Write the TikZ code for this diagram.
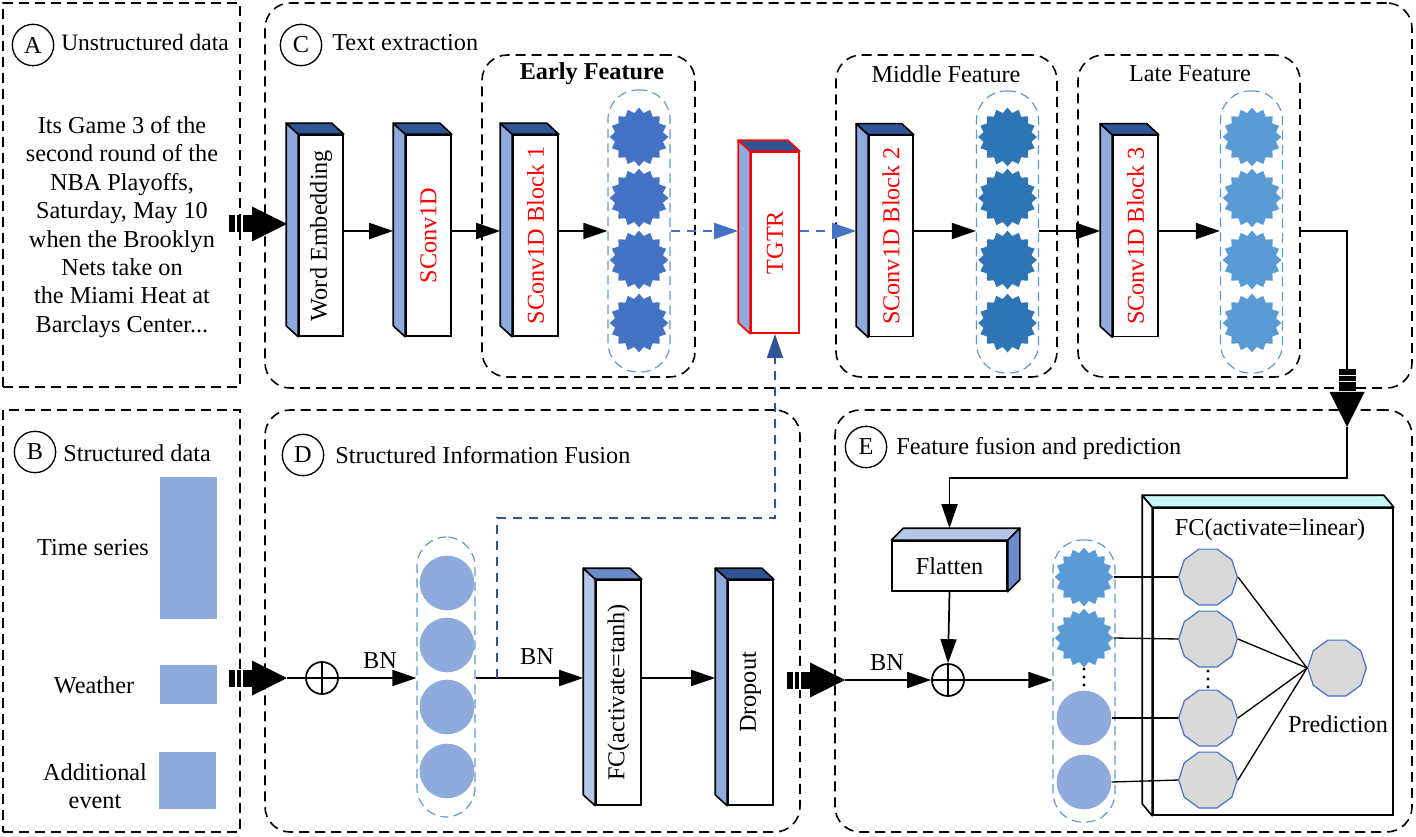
\documentclass[tikz,border=0pt]{standalone}
\usepackage{fontspec}
\setmainfont{Liberation Serif}
\usetikzlibrary{arrows.meta,shapes.geometric,calc}
\definecolor{sidec}{HTML}{8FAADC}
\definecolor{topc}{HTML}{2F5597}
\definecolor{lside}{HTML}{B4C7E7}
\definecolor{mtop}{HTML}{6A8CCB}
\definecolor{st1}{HTML}{4472C4}
\definecolor{st2}{HTML}{2E75B6}
\definecolor{st3}{HTML}{5B9BD5}
\definecolor{capc}{HTML}{5B9BD5}
\definecolor{dkblue}{HTML}{2F5597}
\definecolor{octf}{HTML}{D9D9D9}
\definecolor{cyanc}{HTML}{C9F6F8}
\definecolor{redc}{HTML}{FF0000}
\tikzset{
 every node/.style={font=\fontsize{18.2}{21.3}\selectfont},
 frame/.style={draw, dash pattern=on 7.5pt off 4.5pt, line width=1.2pt, inner sep=0},
 rframe/.style={frame, rounded corners=19pt},
 caps/.style={draw=capc, dash pattern=on 7pt off 4pt, line width=0.9pt, rounded corners=22pt, inner sep=0},
 starn/.style={star, star points=16, star point ratio=1.2, fill=#1, minimum size=44pt, inner sep=0},
 dotn/.style={circle, fill=sidec, minimum size=41pt, inner sep=0},
 octn/.style={regular polygon, regular polygon sides=10, draw=st1, fill=octf, line width=0.9pt, minimum size=44pt, inner sep=0},
 lbl/.style={circle, draw, line width=1pt, minimum size=31pt, inner sep=0},
 arr/.style={-{Triangle[length=18pt,width=12pt]}, line width=1.3pt},
 barr/.style={arr, draw=st1, dash pattern=on 7pt off 5pt},
 darr/.style={arr, draw=dkblue, dash pattern=on 7pt off 5pt, line width=1pt},
 conn/.style={line width=1.3pt},
 thinc/.style={line width=1pt},
 hdr/.style={anchor=base west, inner sep=0},
 oplus/.style={circle, draw, line width=1.3pt, minimum size=24pt, inner sep=0,
   path picture={\draw[line width=1.3pt] (path picture bounding box.north) -- (path picture bounding box.south) (path picture bounding box.west) -- (path picture bounding box.east);}},
 pics/fatarrow/.style={code={
   \fill (0,0) -- (-35,-17.5) -- (-35,17.5) -- cycle;
   \fill (-35.5,-8.5) rectangle (-58,8.5);
   \fill[white] (-52,-10) rectangle (-50.5,10);
   \fill[white] (-46,-10) rectangle (-44.5,10);
 }},
 pics/vdotsp/.style={code={
   \fill (0,-8) circle (1.6);
   \fill (0,0) circle (1.6);
   \fill (0,8) circle (1.6);
 }}
}
\newcommand{\fr}[6]{\node[#6, minimum width={(#4-#2)*0.75pt}, minimum height={(#5-#3)*0.75pt}] (#1) at ({(#2+#4)/2},{(#3+#5)/2}) {};}
\newcommand{\tdbox}[9]{%
  \node[draw=#8, fill=white, line width=1.2pt, minimum width=#4*0.75pt, minimum height=#5*0.75pt, inner sep=0] (#1) at (#2,#3) {};
  \filldraw[draw=#8, fill=#6, line width=1.2pt, line join=round] (#1.north west) -- ++(-12,-11) -- ([shift={(-12,-11)}]#1.south west) -- (#1.south west) -- cycle;
  \filldraw[draw=#8, fill=#7, line width=1.2pt, line join=round] (#1.north west) -- ++(-12,-11) -- ([shift={(-12,-11)}]#1.north east) -- (#1.north east) -- cycle;
  \coordinate (#1-bl) at ([shift={(-12,0)}]#1.west);
  \node[rotate=90] (#1-t) at (#1) {#9};
}
\begin{document}
\begin{tikzpicture}[x=0.75pt,y=-0.75pt]
\useasboundingbox (0,0) rectangle (1416,837);
\coordinate (rowC) at (0,231);
\coordinate (rowD) at (0,678);
\coordinate (rowE) at (0,680);
% frames
\fr{fA}{3}{3}{240}{387}{frame}
\fr{fC}{265}{3}{1412}{388}{rframe}
\fr{fB}{3}{410}{240}{832}{frame}
\fr{fD}{265}{410}{800}{832}{rframe}
\fr{fE}{835}{410}{1412}{832}{rframe}
\fr{fEarly}{482}{55}{695}{377}{rframe}
\fr{fMid}{836}{55}{1057}{377}{rframe}
\fr{fLate}{1078}{55}{1300}{377}{rframe}
% headers
\node[lbl] (cA) at (33,45) {A};
\node[hdr, font=\fontsize{17.6}{21.3}\selectfont] (tA) at (61,51) {Unstructured data};
\node[lbl] (cC) at (301,45) {C};
\node[hdr] (tC) at (332,51) {Text extraction};
\node[lbl] (cB) at (35,452) {B};
\node[hdr] (tB) at (63,461) {Structured data};
\node[lbl] (cD) at (303,455) {D};
\node[hdr] (tD) at (335,463) {Structured Information Fusion};
\node[lbl] (cE) at (866,447) {E};
\node[hdr] (tE) at (896,455) {Feature fusion and prediction};
\node (hEarly) at (592,74) {\textbf{Early Feature}};
\node (hMid) at (946,74) {Middle Feature};
\node (hLate) at (1190,74) {Late Feature};
% A text
\node[align=center, inner sep=0] (txtA) at (122,227) {Its Game 3 of the\\second round of the\\NBA Playoffs,\\Saturday, May 10\\when the Brooklyn\\Nets take on\\the Miami Heat at\\Barclays Center...};
% B content
\node (tTS) at (93,548) {Time series};
\node (tW) at (94,685) {Weather};
\node[align=center] (tAE) at (95,786) {Additional\\event};
\node[fill=sidec, minimum width=57*0.75pt, minimum height=142*0.75pt, inner sep=0] (rTS) at (188.5,548) {};
\node[fill=sidec, minimum width=57*0.75pt, minimum height=39*0.75pt, inner sep=0] (rW) at (188.5,684.5) {};
\node[fill=sidec, minimum width=57*0.75pt, minimum height=57*0.75pt, inner sep=0] (rAE) at (187.5,780.5) {};
% top row boxes
\tdbox{we}{321}{235.5}{44}{201}{sidec}{topc}{black}{Word Embedding}
\tdbox{sc}{428.5}{235.5}{45}{201}{sidec}{topc}{black}{\textcolor{redc}{SConv1D}}
\tdbox{b1}{535.5}{235.5}{45}{201}{sidec}{topc}{black}{\textcolor{redc}{SConv1D Block 1}}
\tdbox{tg}{775}{242.5}{48}{181}{sidec}{topc}{redc}{\textcolor{redc}{TGTR}}
\tdbox{b2}{891}{236}{44}{201}{sidec}{topc}{black}{\textcolor{redc}{SConv1D Block 2}}
\tdbox{b3}{1135.5}{236}{45}{201}{sidec}{topc}{black}{\textcolor{redc}{SConv1D Block 3}}
% capsules with stars
\node[caps, minimum width=62*0.75pt, minimum height=282*0.75pt] (cap1) at (639,231) {};
\node[caps, minimum width=62*0.75pt, minimum height=282*0.75pt] (cap2) at (1007.5,232) {};
\node[caps, minimum width=62*0.75pt, minimum height=282*0.75pt] (cap3) at (1251.5,232) {};
\foreach \i/\yy in {1/137,2/198,3/260,4/323}{
  \node[starn=st1] (s1\i) at (639,\yy) {};
  \node[starn=st2] (s2\i) at (1007.5,\yy) {};
  \node[starn=st3] (s3\i) at (1252,\yy) {};
}
% top row arrows
\draw[arr] (we.east |- rowC) -- (sc-bl |- rowC);
\draw[arr] (sc.east |- rowC) -- (b1-bl |- rowC);
\draw[arr] (b1.east |- rowC) -- (cap1.west |- rowC);
\draw[barr] (cap1.east |- rowC) -- (tg-bl |- rowC);
\draw[barr] (tg.east |- rowC) -- (b2-bl |- rowC);
\draw[arr] (b2.east |- rowC) -- (cap2.west |- rowC);
\draw[arr] (cap2.east |- rowC) -- (b3-bl |- rowC);
\draw[arr] (b3.east |- rowC) -- (cap3.west |- rowC);
% fat arrow A -> C
\coordinate (fa1) at (287,224);
\pic at (fa1) {fatarrow};
% D section
\coordinate (fa2) at (287,678);
\pic at (fa2) {fatarrow};
\node[oplus] (opD) at (322,678) {};
\draw[conn] (fa2) -- (opD.west);
\node[caps, minimum width=58*0.75pt, minimum height=280*0.75pt] (capD) at (446,677) {};
\foreach \i/\yy in {1/583,2/645,3/707,4/771}{\node[dotn] (d\i) at (447,\yy) {};}
\draw[arr] (opD.east) -- (capD.west |- rowD);
\node (bn1) at (380,661) {BN};
\tdbox{fc}{618.5}{692.5}{45}{225}{lside}{mtop}{black}{FC(activate=tanh)}
\tdbox{dr}{750.5}{692.5}{45}{225}{sidec}{topc}{black}{Dropout}
\draw[arr] (capD.east |- rowD) -- (fc-bl |- rowD);
\node (bn2) at (537,657) {BN};
\draw[arr] (fc.east |- rowD) -- (dr-bl |- rowD);
\coordinate (brk) at (497,678);
\coordinate (brk2) at (497,518);
\draw[darr] (brk) -- (brk2) -| (tg.south);
% E section
\coordinate (fa3) at (845,680);
\pic at (fa3) {fatarrow};
\node[oplus] (opE) at (948,680) {};
\draw[arr] (fa3) -- (opE.west);
\node (bn3) at (887,663) {BN};
% right connector C -> E
\coordinate (fa4tail) at (1347,369);
\coordinate (fa4) at (1347,427);
\coordinate (turn) at (1347,478);
\draw[conn] (fLate.east |- rowC) -| (fa4tail);
\pic[rotate=-90] at (fa4) {fatarrow};
% Flatten
\node[draw, fill=white, line width=1.2pt, minimum width=115*0.75pt, minimum height=50*0.75pt, inner sep=0] (fl) at (949.5,566) {Flatten};
\filldraw[fill=lside, line width=1.2pt, line join=round] (fl.north west) -- ++(12,-12) -- ([shift={(12,-12)}]fl.north east) -- (fl.north east) -- cycle;
\filldraw[fill=mtop, line width=1.2pt, line join=round] (fl.north east) -- ++(12,-12) -- ([shift={(12,-12)}]fl.south east) -- (fl.south east) -- cycle;
\draw[arr] (fa4) -- (turn) -| ([shift={(0,-12)}]fl.north);
\draw[arr] (fl.south) -- (opE.north);
% E capsule
\node[caps, minimum width=62*0.75pt, minimum height=282*0.75pt] (capE) at (1084,681) {};
\node[starn=st3] (es1) at (1084,577) {};
\node[starn=st3] (es2) at (1084,638) {};
\coordinate (edots) at (1084,677);
\pic at (edots) {vdotsp};
\node[dotn] (ec1) at (1084,718) {};
\node[dotn] (ec2) at (1084,782) {};
\draw[arr] (opE.east) -- (capE.west |- rowE);
% FC linear box
\node[draw, fill=white, line width=1.2pt, minimum width=240*0.75pt, minimum height=307*0.75pt, inner sep=0] (fcl) at (1273,661.5) {};
\filldraw[fill=white, line width=1.2pt, line join=round] (fcl.north west) -- ++(-10,-12) -- ([shift={(-10,-12)}]fcl.south west) -- (fcl.south west) -- cycle;
\filldraw[fill=cyanc, line width=1.2pt, line join=round] (fcl.north west) -- ++(-10,-12) -- ([shift={(-10,-12)}]fcl.north east) -- (fcl.north east) -- cycle;
\node (fclt) at (1270,530) {FC(activate=linear)};
\coordinate (o1w) at (1179,577);
\coordinate (o2w) at (1179,639);
\coordinate (o3w) at (1179,718);
\coordinate (o4w) at (1179,780);
\draw[thinc] (es1.east) -- (o1w);
\draw[thinc] (es2.east) -- (o2w);
\draw[thinc] (ec1.east) -- (o3w);
\draw[thinc] (ec2.east) -- (o4w);
\node[octn] (o1) at (1208,577) {};
\node[octn] (o2) at (1208,639) {};
\node[octn] (o3) at (1208,718) {};
\node[octn] (o4) at (1208,780) {};
\coordinate (odots) at (1208,679);
\pic at (odots) {vdotsp};
\node[octn] (op) at (1337,668) {};
\foreach \o in {o1,o2,o3,o4}{\draw[thinc] (\o.east) -- (op.west);}
\node (ptxt) at (1338,724) {Prediction};
\end{tikzpicture}
\end{document}
